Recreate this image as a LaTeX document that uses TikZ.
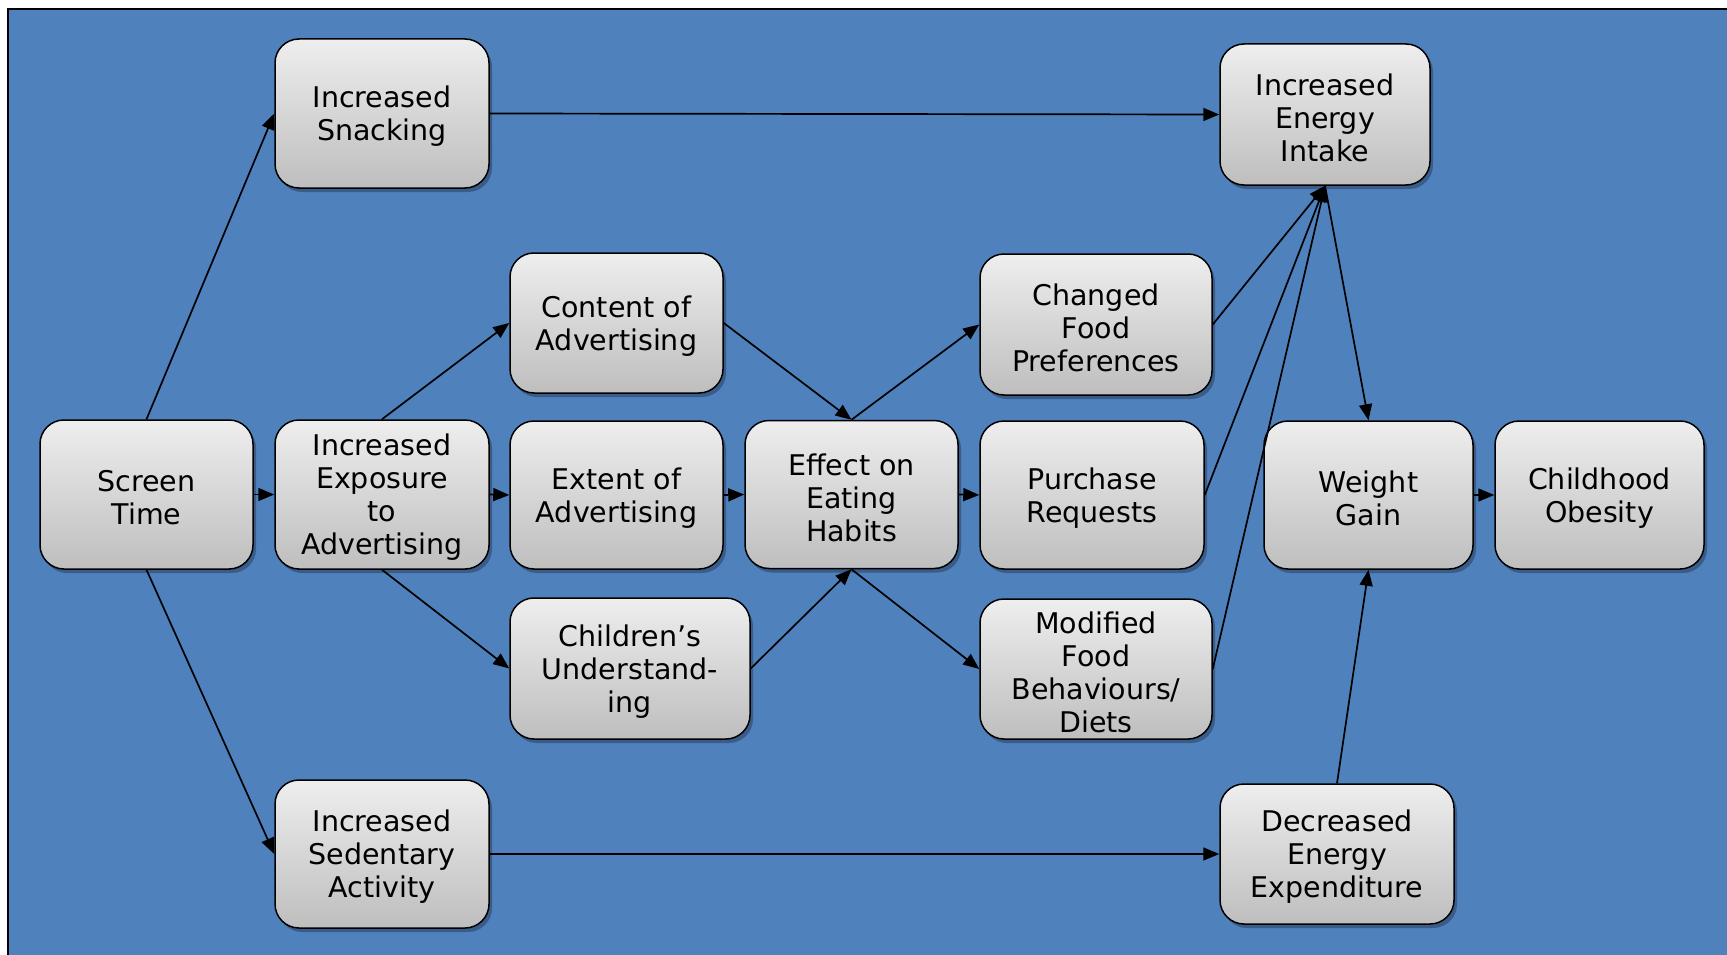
\documentclass[tikz,border=0pt]{standalone}
\usepackage{fontspec}
\setmainfont{DejaVu Sans}
\usetikzlibrary{arrows.meta,shadows}
\definecolor{bgblue}{RGB}{79,129,189}
\definecolor{boxtop}{RGB}{238,238,238}
\definecolor{boxbot}{RGB}{190,190,190}
\tikzset{
  box/.style={draw=black, line width=1.5pt, rounded corners=24pt,
    top color=boxtop, bottom color=boxbot, inner sep=0pt, align=center,
    drop shadow={shadow xshift=3pt, shadow yshift=-4pt, fill=black, opacity=0.28}},
  txt/.style={align=center, inner sep=0pt, yshift=-3pt,
    font=\fontsize{28.5pt}{33pt}\selectfont},
  conn/.style={line width=1.7pt, -{Triangle[length=16pt,width=13pt]}}
}
\begin{document}
\begin{tikzpicture}[x=1pt,y=-1pt]
\useasboundingbox (0,0) rectangle (1727,955);
\clip (0,0) rectangle (1727,955);
\fill[white] (0,0) rectangle (1727,955);
\draw[fill=bgblue, line width=2pt] (8,9) rectangle (1760,990);

\node[box, minimum width=213pt, minimum height=149pt, label={[txt]center:{Screen\\Time}}] (screen) at (146.5,494.5) {};
\node[box, minimum width=214pt, minimum height=149pt, label={[txt]center:{Increased\\Exposure\\to\\Advertising}}] (expo) at (382,494.5) {};
\node[box, minimum width=214pt, minimum height=149pt, label={[txt]center:{Increased\\Snacking}}] (snack) at (382,113.5) {};
\node[box, minimum width=214pt, minimum height=148pt, label={[txt]center:{Increased\\Sedentary\\Activity}}] (sed) at (382,854) {};
\node[box, minimum width=213pt, minimum height=140pt, label={[txt]center:{Content of\\Advertising}}] (content) at (616.5,323) {};
\node[box, minimum width=213pt, minimum height=148pt, label={[txt]center:{Extent of\\Advertising}}] (extent) at (616.5,495) {};
\node[box, minimum width=240pt, minimum height=141pt, label={[txt]center:{Children’s\\Understand-\\ing}}] (child) at (630,668.5) {};
\node[box, minimum width=213pt, minimum height=148pt, label={[txt]center:{Effect on\\Eating\\Habits}}] (effect) at (851.5,494.5) {};
\node[box, minimum width=232pt, minimum height=141pt, label={[txt]center:{Changed\\Food\\Preferences}}] (changed) at (1096,324.5) {};
\node[box, minimum width=224pt, minimum height=148pt, label={[txt]center:{Purchase\\Requests}}] (purchase) at (1092,495) {};
\node[box, minimum width=232pt, minimum height=140pt, label={[txt]center:{Modified\\Food\\Behaviours/\\Diets}}] (modified) at (1096,669) {};
\node[box, minimum width=210pt, minimum height=141pt, label={[txt]center:{Increased\\Energy\\Intake}}] (intake) at (1325,114.5) {};
\node[box, minimum width=209pt, minimum height=148pt, label={[txt]center:{Weight\\Gain}}] (weight) at (1368.5,495) {};
\node[box, minimum width=209pt, minimum height=148pt, label={[txt]center:{Childhood\\Obesity}}] (obesity) at (1599.5,495) {};
\node[box, minimum width=234pt, minimum height=140pt, label={[txt]center:{Decreased\\Energy\\Expenditure}}] (decr) at (1337,854) {};

\draw[conn] (screen.north) -- (snack.west);
\draw[conn] (screen.east) -- (expo.west);
\draw[conn] (screen.south) -- (sed.west);
\draw[conn] (snack.east) -- (intake.west);
\draw[conn] (sed.east) -- (decr.west);
\draw[conn] (expo.north) -- (content.west);
\draw[conn] (expo.east) -- (extent.west);
\draw[conn] (expo.south) -- (child.west);
\draw[conn] (content.east) -- (effect.north);
\draw[conn] (extent.east) -- (effect.west);
\draw[conn] (child.east) -- (effect.south);
\draw[conn] (effect.north) -- (changed.west);
\draw[conn] (effect.east) -- (purchase.west);
\draw[conn] (effect.south) -- (modified.west);
\draw[conn] (changed.east) -- (intake.south);
\draw[conn] (purchase.east) -- (intake.south);
\draw[conn] (modified.east) -- (intake.south);
\draw[conn] (intake.south) -- (weight.north);
\draw[conn] (decr.north) -- (weight.south);
\draw[conn] (weight.east) -- (obesity.west);
\end{tikzpicture}
\end{document}
